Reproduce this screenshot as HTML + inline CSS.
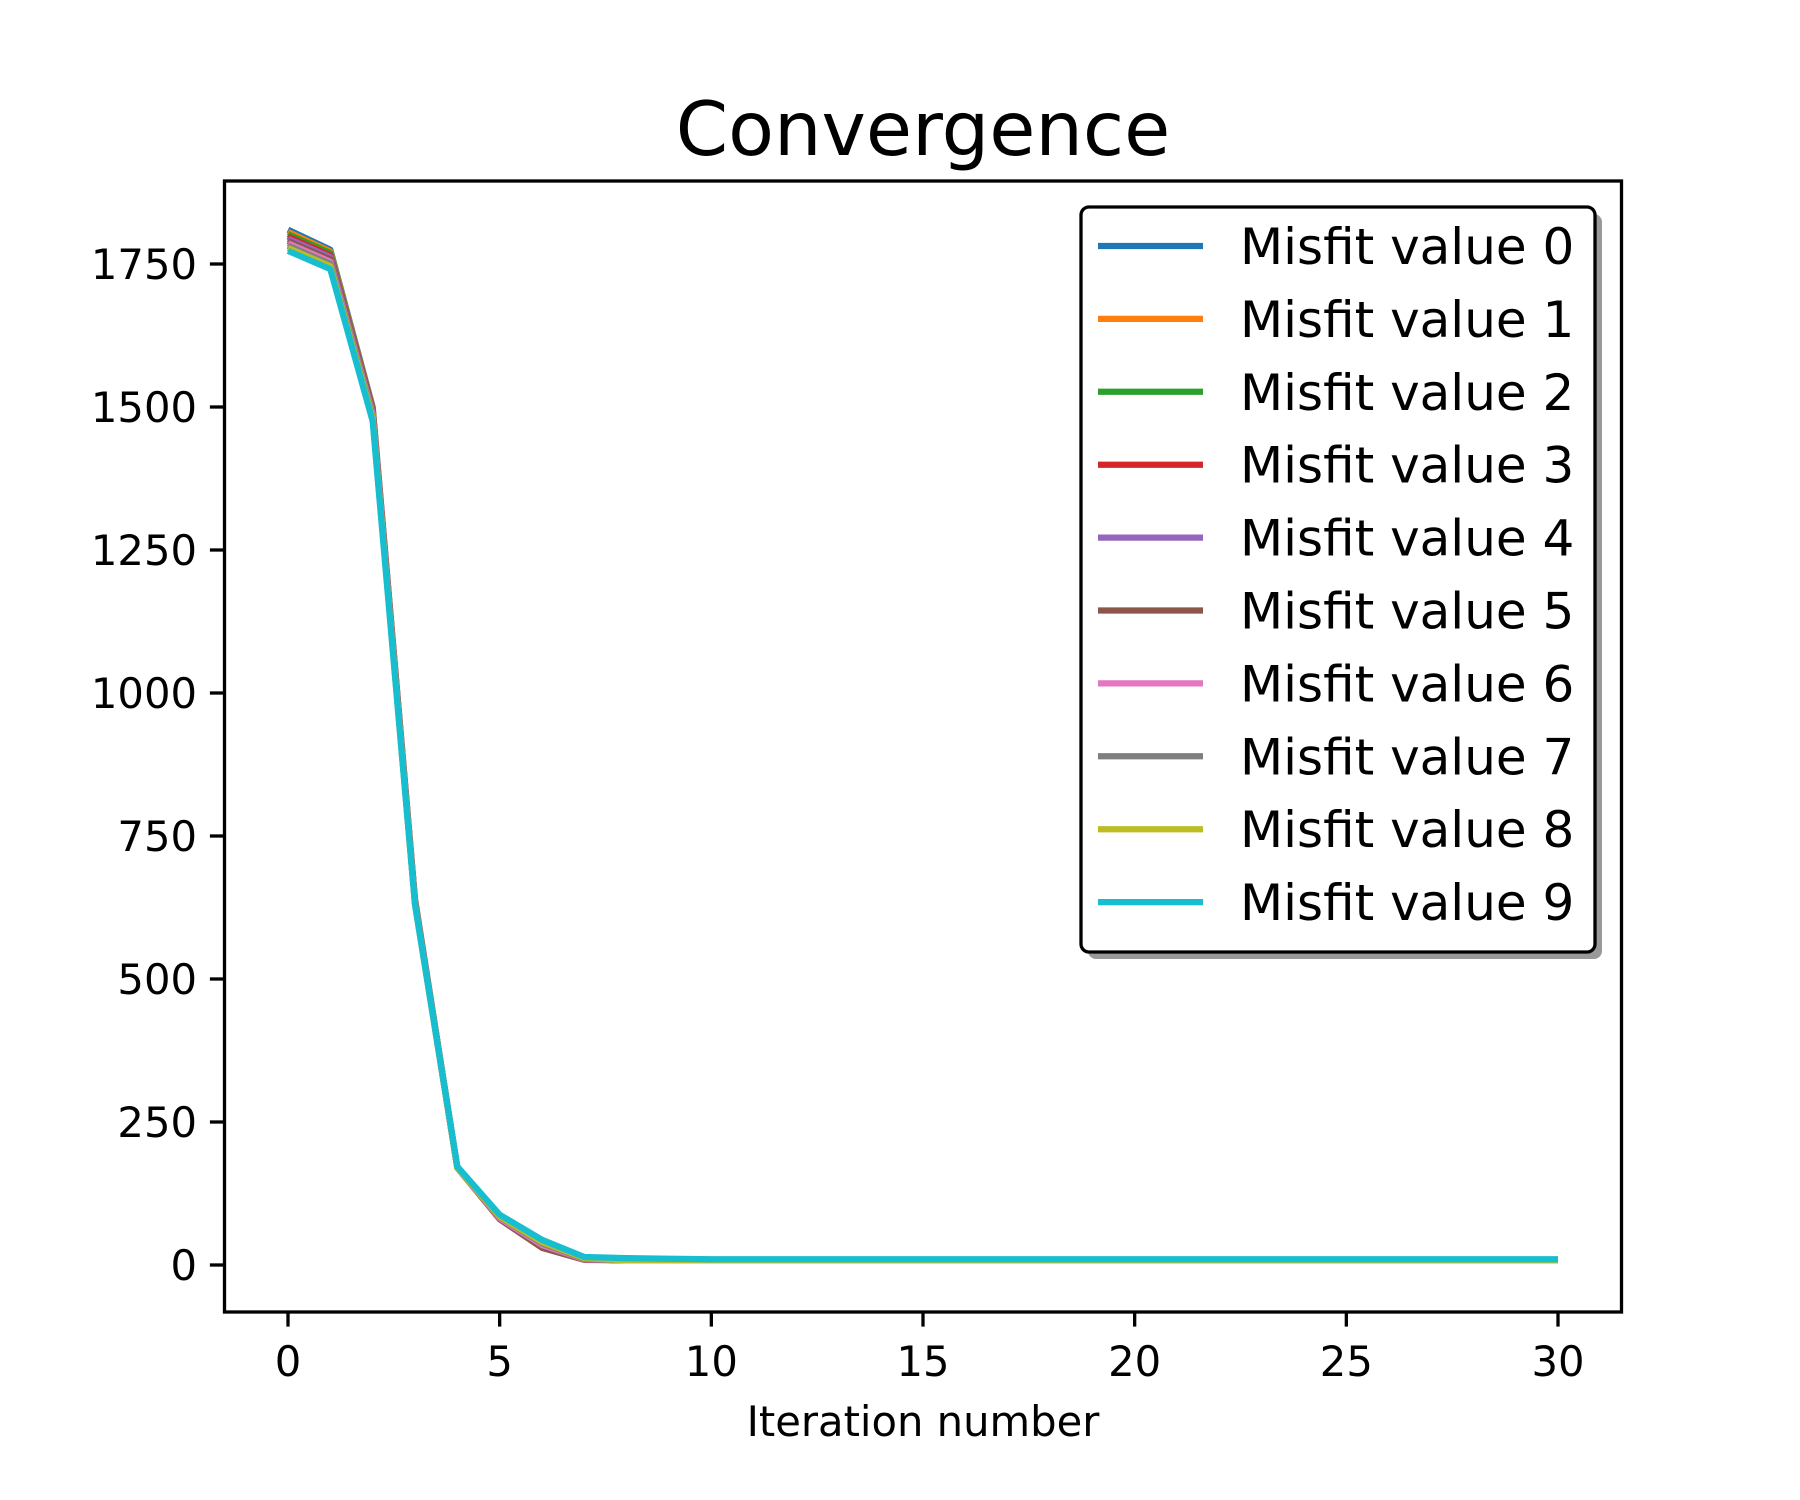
<!DOCTYPE html>
<html><head><meta charset="utf-8"><style>html,body{margin:0;padding:0;background:#fff}svg{display:block}</style></head>
<body>
<svg id="chart" width="1800" height="1500" xmlns="http://www.w3.org/2000/svg" font-family="DejaVu Sans, Liberation Sans, sans-serif">
<rect x="0" y="0" width="1800" height="1500" fill="#fff"/>
<text x="923" y="155" font-size="75" text-anchor="middle">Convergence</text>
<g id="plot"></g>
<text x="923" y="1436" font-size="41.7" text-anchor="middle">Iteration number</text>
</svg>
<script>
const xTicks = [0,5,10,15,20,25,30];
const yTicks = [0,250,500,750,1000,1250,1500,1750];
const seriesNames = ["Misfit value 0","Misfit value 1","Misfit value 2","Misfit value 3","Misfit value 4","Misfit value 5","Misfit value 6","Misfit value 7","Misfit value 8","Misfit value 9"];
const colors = ["#1f77b4","#ff7f0e","#2ca02c","#d62728","#9467bd","#8c564b","#e377c2","#7f7f7f","#bcbd22","#17becf"];
const T = [8,8,8,8,8,8,8,8,8,8,8,8,8,8,8,8,8,8,8,8,8,8,8];
const s0 = [1810,1775,1500,640,170,84,36,10].concat(T);
const s1 = [1806,1772,1498,638,170,84,36,10].concat(T);
const s2 = [1802,1769,1497,637,170,83,35,10].concat(T);
const s3 = [1798,1765,1496,636,170,83,34,10].concat(T);
const s4 = [1794,1762,1494,635,170,82,33,10].concat(T);
const s5 = [1790,1758,1493,634,170,80,30,9].concat(T);
const s6 = [1786,1754,1488,633,170,82,35,10].concat(T);
const s7 = [1782,1750,1484,632,170,84,38,11].concat(T);
const s8 = [1778,1746,1480,631,170,85,40,12].concat(T);
const s9 = [1773,1741,1475,630,172,88,44,14,12,11,10,10,10,10,10,10,10,10,10,10,10,10,10,10,10,10,10,10,10,10,10];
const series = [s0,s1,s2,s3,s4,s5,s6,s7,s8,s9];

const L=224.5,R=1621.5,TOP=181,B=1312;
const xs = v => 288 + (v-0)*(1558-288)/30;
const ys = v => 1265 - v*143/250;
const NS="http://www.w3.org/2000/svg";
const g=document.getElementById('plot');
function mk(t,a){const e=document.createElementNS(NS,t);for(const k in a)e.setAttribute(k,a[k]);g.appendChild(e);return e;}

series.forEach((s,i)=>{
  const p=mk('polyline',{points:s.map((v,j)=>xs(j)+','+ys(v)).join(' '),fill:'none',stroke:colors[i],'stroke-width':6.25,'stroke-linejoin':'round'});
  
  
});
const fr=mk('rect',{x:L,y:TOP,width:R-L,height:B-TOP,fill:'none',stroke:'#000','stroke-width':3.3});


xTicks.forEach(v=>{
  const l=mk('line',{x1:xs(v),x2:xs(v),y1:B,y2:B+14.6,stroke:'#000','stroke-width':3.3});
  
  
  const t=mk('text',{x:xs(v),y:1376,'font-size':41.7,'text-anchor':'middle'});t.textContent=v;
  
  
});
yTicks.forEach(v=>{
  const l=mk('line',{x1:L-14.6,x2:L,y1:ys(v),y2:ys(v),stroke:'#000','stroke-width':3.3});
  
  
  const t=mk('text',{x:197,y:ys(v)+15,'font-size':41.7,'text-anchor':'end'});t.textContent=v;
  
  
});
// legend
const sh=mk('rect',{x:1088,y:214,width:514,height:745,rx:8,fill:'#999'});


const lb=mk('rect',{x:1081,y:207,width:514,height:745,rx:8,fill:'#fff',stroke:'#000','stroke-width':3.3});


seriesNames.forEach((n,i)=>{
  const y=246+i*72.9;
  const l=mk('line',{x1:1098,x2:1203,y1:y,y2:y,stroke:colors[i],'stroke-width':6.25});
  
  
  const t=mk('text',{x:1240,y:y+18,'font-size':50});t.textContent=n;
  
  
});
</script>
</body></html>
